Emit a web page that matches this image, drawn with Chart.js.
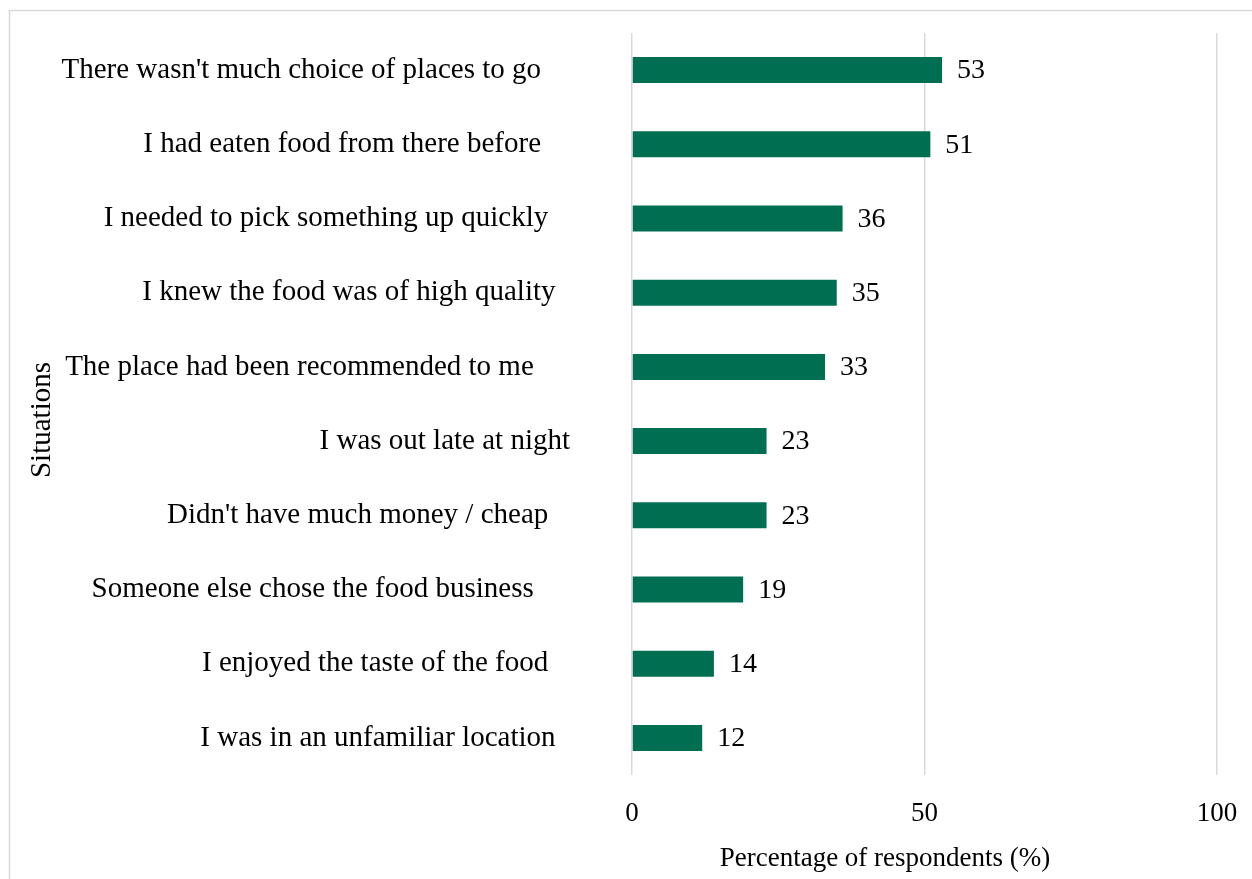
<!DOCTYPE html>
<html>
<head>
<meta charset="utf-8">
<title>Situations</title>
<script src="https://cdn.jsdelivr.net/npm/chart.js@4.4.1/dist/chart.umd.min.js"></script>
<style>
    html, body { margin: 0; padding: 0; background: #ffffff; }
    #chartBox { width: 1252px; height: 879px; }
</style>
</head>
<body>
<div id="chartBox"><canvas id="situationsChart" width="1252" height="879"></canvas></div>
<script>
// Datos del gráfico (las etiquetas conservan los espacios finales del original)
var situations = [
    "There wasn't much choice of places to go    ",
    "I had eaten food from there before    ",
    "I needed to pick something up quickly   ",
    "I knew the food was of high quality  ",
    "The place had been recommended to me     ",
    "I was out late at night",
    "Didn't have much money / cheap   ",
    "Someone else chose the food business     ",
    "I enjoyed the taste of the food   ",
    "I was in an unfamiliar location  "
];
var respondents = [53, 51, 36, 35, 33, 23, 23, 19, 14, 12];
var xTicks = [0, 50, 100];

var xTitle = 'Percentage of respondents (%)';
var yTitle = 'Situations';

var serif = "'Liberation Serif', 'Times New Roman', serif";
var barGreen = '#006f51';
var gridGrey = '#d9d9d9';

// Marco gris claro alrededor del gráfico
var framePlugin = {
    id: 'frame',
    beforeDraw: function(chart) {
        var ctx = chart.ctx;
        ctx.save();
        ctx.fillStyle = '#ffffff';
        ctx.fillRect(0, 0, chart.width, chart.height);
        ctx.strokeStyle = gridGrey;
        ctx.lineWidth = 1.5;
        ctx.strokeRect(9.5, 10.5, chart.width + 20, chart.height + 20);
        ctx.restore();
    }
};

// Etiquetas de valor al final de cada barra
var valueLabelPlugin = {
    id: 'valueLabels',
    afterDatasetsDraw: function(chart) {
        var ctx = chart.ctx;
        var meta = chart.getDatasetMeta(0);
        ctx.save();
        ctx.font = '28px ' + serif;
        ctx.fillStyle = '#000000';
        ctx.textAlign = 'left';
        ctx.textBaseline = 'middle';
        meta.data.forEach(function(bar, i) {
            ctx.fillText(String(respondents[i]), bar.x + 15, bar.y + 1);
        });
        ctx.restore();
    }
};

// Títulos de los ejes colocados como en el original
var axisTitlePlugin = {
    id: 'axisTitles',
    afterDraw: function(chart) {
        var ctx = chart.ctx;
        var area = chart.chartArea;
        ctx.save();
        ctx.fillStyle = '#000000';
        ctx.textAlign = 'center';
        ctx.textBaseline = 'middle';
        ctx.font = '27px ' + serif;
        ctx.fillText(xTitle, area.left + 253, chart.height - 20);
        ctx.font = '29px ' + serif;
        ctx.translate(42, (area.top + area.bottom) / 2 + 16);
        ctx.rotate(-Math.PI / 2);
        ctx.fillText(yTitle, 0, 0);
        ctx.restore();
    }
};

document.addEventListener('DOMContentLoaded', function() {
    var ctx = document.getElementById('situationsChart');

    new Chart(ctx, {
        type: 'bar',
        data: {
            labels: situations,
            datasets: [{
                label: 'Percentage of respondents',
                data: respondents,
                backgroundColor: barGreen,
                borderWidth: 0,
                categoryPercentage: 0.7,
                barPercentage: 0.5
            }]
        },
        options: {
            indexAxis: 'y',
            responsive: false,
            animation: false,
            devicePixelRatio: 1,
            layout: {
                padding: { left: 0, top: 33, right: 35, bottom: 0 }
            },
            plugins: {
                legend: { display: false },
                tooltip: { enabled: false }
            },
            scales: {
                x: {
                    min: 0,
                    max: 100,
                    afterBuildTicks: function(scale) {
                        scale.ticks = xTicks.map(function(v) { return { value: v }; });
                    },
                    afterFit: function(scale) {
                        scale.height = 104;
                        scale.paddingLeft = 0;
                        scale.paddingRight = 0;
                    },
                    ticks: {
                        padding: 23,
                        color: '#000000',
                        font: { family: serif, size: 27 }
                    },
                    grid: {
                        color: gridGrey,
                        lineWidth: 1.5,
                        drawTicks: false
                    },
                    border: { display: false }
                },
                y: {
                    afterFit: function(scale) {
                        scale.width = 632;
                        scale.paddingTop = 0;
                        scale.paddingBottom = 0;
                    },
                    ticks: {
                        padding: 62,
                        color: '#000000',
                        font: { family: serif, size: 29 }
                    },
                    grid: { display: false, drawTicks: false },
                    border: { display: false }
                }
            }
        },
        plugins: [framePlugin, valueLabelPlugin, axisTitlePlugin]
    });
});
</script>
</body>
</html>
